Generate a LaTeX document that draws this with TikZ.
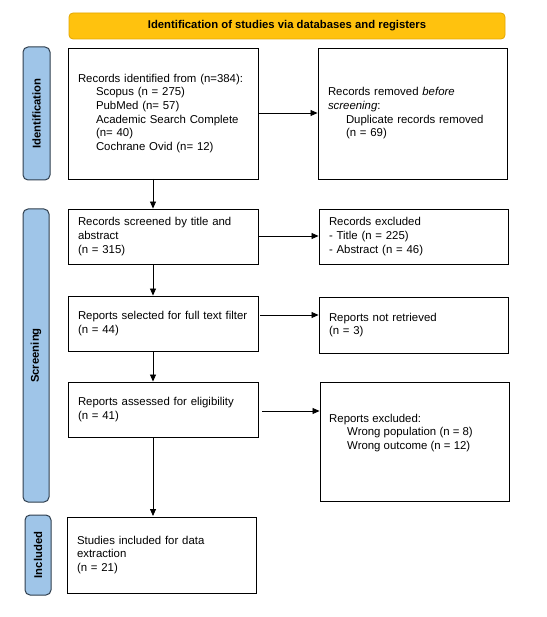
\documentclass[tikz,border=0pt]{standalone}
\usepackage{fontspec}
\setmainfont{Liberation Sans}
\usetikzlibrary{arrows.meta}
\definecolor{hdrfill}{HTML}{FFC20E}
\definecolor{hdrdraw}{HTML}{E3A600}
\definecolor{barfill}{HTML}{9FC5E8}
\definecolor{bardraw}{HTML}{2F3E4E}
\tikzset{
  box/.style={draw=black, line width=0.9pt, fill=white, align=left, inner xsep=10pt,
    font=\fontsize{11.4}{13.7}\selectfont},
  bar/.style={draw=bardraw, line width=1pt, fill=barfill, rounded corners=5pt},
  barlabel/.style={rotate=90, font=\bfseries\fontsize{11.3}{13.7}\selectfont},
  conn/.style={line width=0.8pt, -{Triangle[length=7pt,width=6pt]}},
  txt/.style={align=left, inner sep=0pt, font=\fontsize{11.4}{13.7}\selectfont}
}
\newcommand{\ind}{\hspace*{18pt}}
\begin{document}
\begin{tikzpicture}[x=1pt,y=-1pt]
\useasboundingbox (0,0) rectangle (546,617);
% header
\node[draw=hdrdraw, line width=0.8pt, fill=hdrfill, rounded corners=4pt,
  minimum width=436pt, minimum height=26pt, font=\bfseries\fontsize{11.3}{13.7}\selectfont]
  (hdr) at (287,26) {Identification of studies via databases and registers};
% side bars
\node[bar, minimum width=27pt, minimum height=133pt] (bid) at (36.5,113.5) {};
\node[barlabel] at (bid.center) {Identification};
\node[bar, minimum width=26pt, minimum height=293pt] (bsc) at (36,355.5) {};
\node[barlabel] at (bsc.center) {Screening};
\node[bar, minimum width=26pt, minimum height=80pt] (bin) at (38,555) {};
\node[barlabel] at (bin.center) {Included};
% left column
\node[box, minimum width=190pt, minimum height=131pt, text width=170pt] (b1) at (163,113.5)
 {Records identified from (n=384):\\
  \ind Scopus (n = 275)\\
  \ind PubMed (n= 57)\\
  \ind Academic Search Complete\\
  \ind (n= 40)\\
  \ind Cochrane Ovid (n= 12)};
\node[box, minimum width=190pt, minimum height=55pt, text width=170pt] (b3) at (163,236.5)
 {Records screened by title and\\ abstract\\ (n = 315)};
\node[box, minimum width=190pt, minimum height=55pt, text width=170pt] (b5) at (163,323.5)
 {Reports selected for full text filter\\ (n = 44)};
\node[box, minimum width=190pt, minimum height=55pt, text width=170pt] (b7) at (163,409.5)
 {Reports assessed for eligibility\\ (n = 41)};
\node[box, minimum width=189pt, minimum height=76pt, text width=169pt] (b9) at (161.5,555)
 {Studies included for data\\ extraction\\ (n = 21)};
% right column
\node[box, minimum width=189pt, minimum height=131pt, text width=169pt] (b2) at (412.5,113.5)
 {Records removed \textit{before}\\ \textit{screening}:\\ \ind Duplicate records removed\\ \ind (n = 69)};
\node[box, minimum width=189pt, minimum height=55pt, text width=169pt] (b4) at (413.5,236.5)
 {Records excluded\\ - Title (n = 225)\\ - Abstract (n = 46)};
\node[box, minimum width=189pt, minimum height=56pt, text width=169pt] (b6) at (413.5,325)
 {Reports not retrieved\\ (n = 3)};
\node[box, minimum width=189pt, minimum height=119pt] (b8) at (414.5,441.5) {};
\node[txt, anchor=west] (b8t) at (329,433)
 {Reports excluded:\\ \ind Wrong population (n = 8)\\ \ind Wrong outcome (n = 12)};
% connectors
\coordinate (c1) at (258,113);
\draw[conn] (c1) -- (c1 -| b2.west);
\coordinate (c3) at (258,236);
\draw[conn] (c3) -- (c3 -| b4.west);
\coordinate (c5) at (260,315);
\draw[conn] (c5) -- (c5 -| b6.west);
\coordinate (c7) at (262,411);
\draw[conn] (c7) -- (c7 -| b8.west);
\coordinate (d1) at (153,179);
\draw[conn] (d1) -- (d1 |- b3.north);
\coordinate (d3) at (153,264);
\draw[conn] (d3) -- (d3 |- b5.north);
\coordinate (d5) at (153,351);
\draw[conn] (d5) -- (d5 |- b7.north);
\coordinate (d7) at (153,437);
\draw[conn] (d7) -- (153,516);
\end{tikzpicture}
\end{document}
